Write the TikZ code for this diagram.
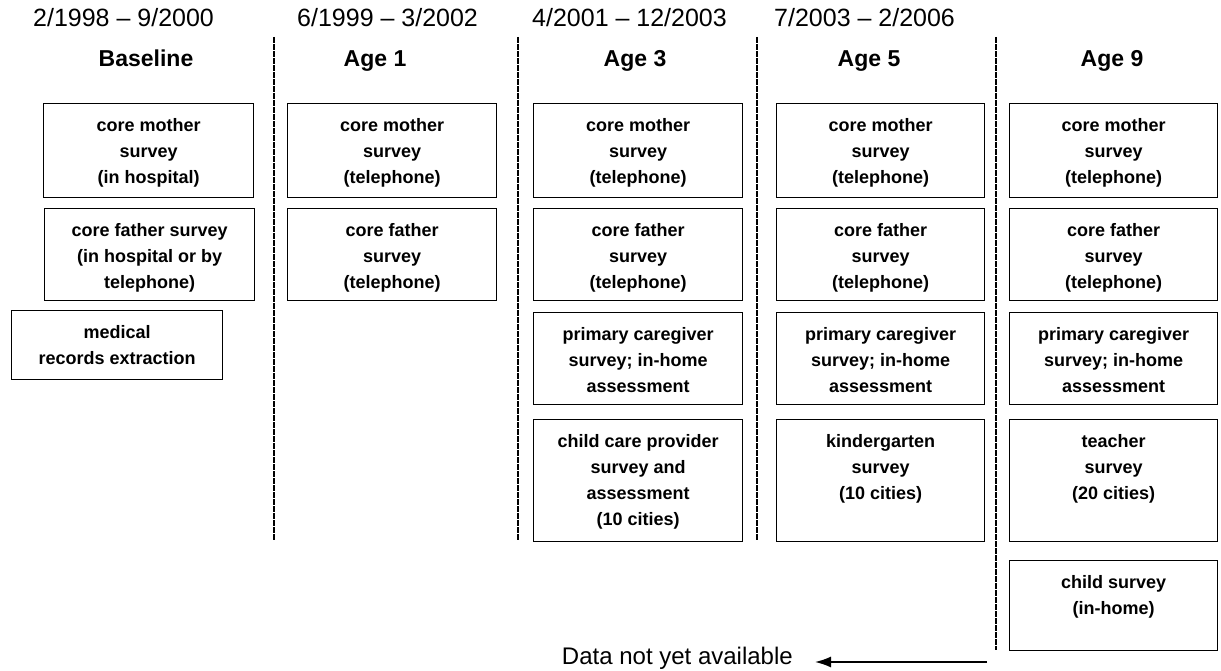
\documentclass[tikz,border=0pt]{standalone}
\usepackage{fontspec}
\setmainfont{Liberation Sans}
\usetikzlibrary{arrows.meta}

% Box text: fixed-size box, lines stacked from the top edge
\newcommand{\cellbox}[3]{\parbox[c][#2][t]{#1}{\centering\vspace*{9.5pt}\strut #3}}

\begin{document}
\begin{tikzpicture}[x=1pt,y=-1pt,
  survey/.style={draw=black, line width=1.2pt, inner sep=0pt, anchor=north west,
    font=\fontsize{18}{26}\selectfont\bfseries},
  period/.style={anchor=base west, inner sep=0pt, font=\fontsize{25}{30}\selectfont},
  wave/.style={anchor=base, inner sep=0pt, font=\fontsize{23}{28}\selectfont\bfseries},
  divider/.style={line width=1.2pt, dash pattern=on 6pt off 1pt},
  pointer/.style={line width=1.6pt, -{Latex[length=16pt,width=11pt]}},
]
\useasboundingbox (0,0) rectangle (1221,671);

% collection periods
\node[period] (p0) at (33,27)  {2/1998 – 9/2000};
\node[period] (p1) at (297,27) {6/1999 – 3/2002};
\node[period] (p3) at (532,27) {4/2001 – 12/2003};
\node[period] (p5) at (774,27) {7/2003 – 2/2006};

% wave headings
\node[wave] (h0) at (146,67)  {Baseline};
\node[wave] (h1) at (375,67)  {Age 1};
\node[wave] (h3) at (635,67)  {Age 3};
\node[wave] (h5) at (869,67)  {Age 5};
\node[wave] (h9) at (1112,67) {Age 9};

% column separators
\coordinate (d1t) at (274,37);  \coordinate (d1b) at (274,540);
\coordinate (d2t) at (518,37);  \coordinate (d2b) at (518,540);
\coordinate (d3t) at (757,37);  \coordinate (d3b) at (757,540);
\coordinate (d4t) at (996,37);  \coordinate (d4b) at (996,650);
\draw[divider] (d1t) -- (d1b);
\draw[divider] (d2t) -- (d2b);
\draw[divider] (d3t) -- (d3b);
\draw[divider] (d4t) -- (d4b);

% Baseline
\node[survey] (b0m) at (43,103) {\cellbox{210pt}{94pt}{core mother\\survey\\(in hospital)}};
\node[survey] (b0f) at (44,208) {\cellbox{210pt}{92pt}{core father survey\\(in hospital or by\\telephone)}};
\node[survey] (b0r) at (11,310) {\cellbox{211pt}{69pt}{medical\\records extraction}};

% Age 1
\node[survey] (b1m) at (287,103) {\cellbox{209pt}{94pt}{core mother\\survey\\(telephone)}};
\node[survey] (b1f) at (287,208) {\cellbox{209pt}{92pt}{core father\\survey\\(telephone)}};

% Age 3
\node[survey] (b3m) at (533,103) {\cellbox{209pt}{94pt}{core mother\\survey\\(telephone)}};
\node[survey] (b3f) at (533,208) {\cellbox{209pt}{92pt}{core father\\survey\\(telephone)}};
\node[survey] (b3p) at (533,312) {\cellbox{209pt}{92pt}{primary caregiver\\survey; in-home\\assessment}};
\node[survey] (b3c) at (533,419) {\cellbox{209pt}{122pt}{child care provider\\survey and\\assessment\\(10 cities)}};

% Age 5
\node[survey] (b5m) at (776,103) {\cellbox{208pt}{94pt}{core mother\\survey\\(telephone)}};
\node[survey] (b5f) at (776,208) {\cellbox{208pt}{92pt}{core father\\survey\\(telephone)}};
\node[survey] (b5p) at (776,312) {\cellbox{208pt}{92pt}{primary caregiver\\survey; in-home\\assessment}};
\node[survey] (b5k) at (776,419) {\cellbox{208pt}{122pt}{kindergarten\\survey\\(10 cities)}};

% Age 9
\node[survey] (b9m) at (1009,103) {\cellbox{208pt}{94pt}{core mother\\survey\\(telephone)}};
\node[survey] (b9f) at (1009,208) {\cellbox{208pt}{92pt}{core father\\survey\\(telephone)}};
\node[survey] (b9p) at (1009,312) {\cellbox{208pt}{92pt}{primary caregiver\\survey; in-home\\assessment}};
\node[survey] (b9t) at (1009,419) {\cellbox{208pt}{122pt}{teacher\\survey\\(20 cities)}};
\node[survey] (b9c) at (1009,560) {\cellbox{208pt}{90pt}{child survey\\(in-home)}};

% note with pointer
\node[anchor=base east, inner sep=0pt, font=\fontsize{24}{28}\selectfont] (note) at (793,664) {Data not yet available};
\coordinate (tail) at (987,662);
\draw[pointer, shorten >=22pt] (tail) -- (tail -| note.east);
\end{tikzpicture}
\end{document}
